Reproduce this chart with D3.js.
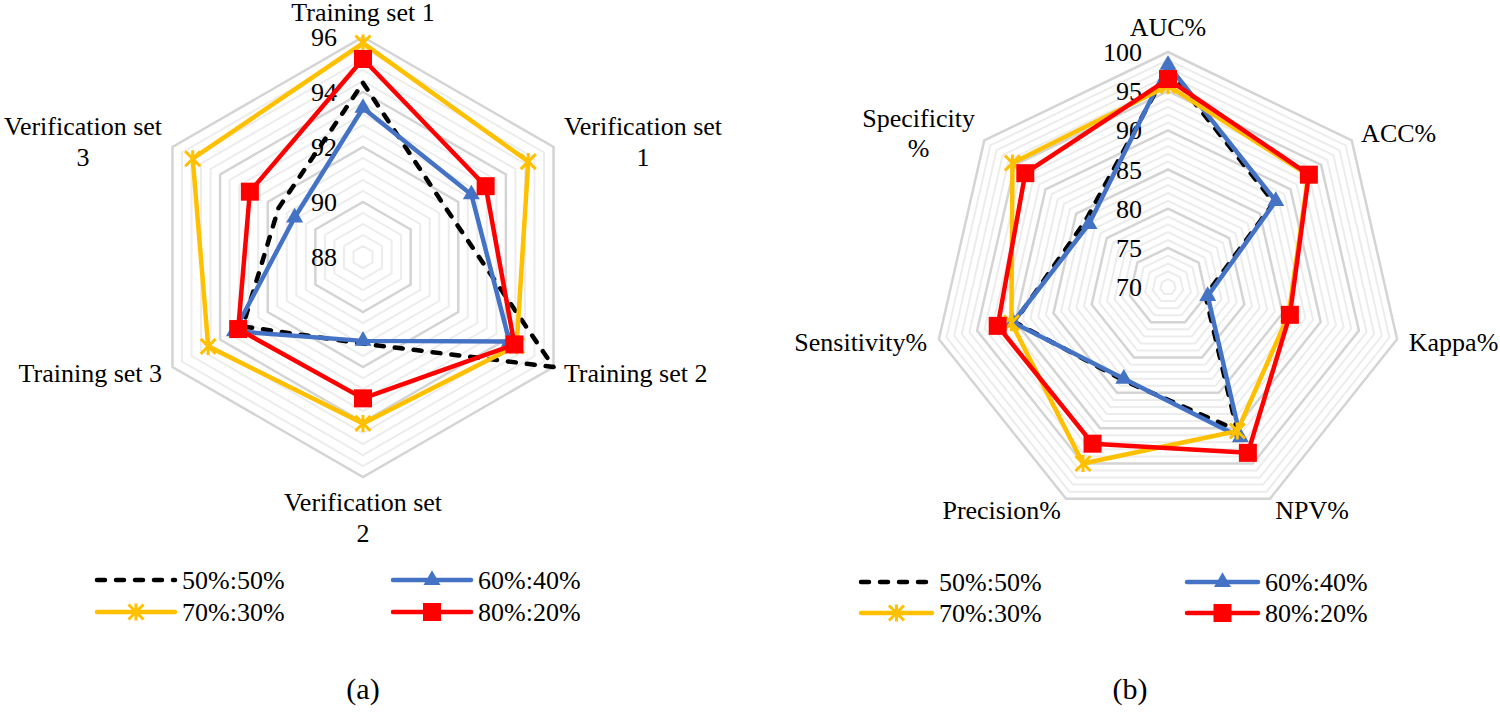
<!DOCTYPE html>
<html><head><meta charset="utf-8">
<script src="https://cdn.jsdelivr.net/npm/d3@7"></script>
<style>
body{margin:0;background:#fff}
svg{display:block}
</style>
</head><body>
<svg id="chart" width="1500" height="714" font-family="'Liberation Serif', Tinos, 'DejaVu Serif', 'Noto Serif', 'Times New Roman', serif"></svg>
<script>
// ---- Data: panel (a) ----
const leftCategories = ["Training set 1", "Verification set\n1", "Training set 2", "Verification set\n2", "Training set 3", "Verification set\n3"];
const leftS50 = [94.33, 91.5, 96.0, 91.15, 93.05, 91.55];
const leftS60 = [93.42, 92.55, 94.15, 91.05, 93.4, 90.87];
const leftS70 = [95.78, 94.94, 94.45, 94.05, 94.5, 95.15];
const leftS80 = [95.2, 93.15, 94.36, 93.14, 93.24, 92.75];
const leftTicks = [88, 90, 92, 94, 96];

// ---- Data: panel (b) ----
const rightCategories = ["AUC%", "ACC%", "Kappa%", "NPV%", "Precision%", "Sensitivity%", "Specificity\n%"];
const rightS50 = [97.8, 87.3, 74.9, 90.3, 83.2, 90.1, 83.5];
const rightS60 = [98.35, 87.6, 75.2, 91.3, 83.0, 90.3, 82.9];
const rightS70 = [95.7, 92.9, 85.8, 90.4, 95.0, 90.5, 95.4];
const rightS80 = [96.55, 93.0, 85.96, 93.5, 92.2, 92.3, 93.3];
const rightTicks = [70, 75, 80, 85, 90, 95, 100];

const seriesNames = ["50%:50%", "60%:40%", "70%:30%", "80%:20%"];

const styles = [
  {color: "#000000", dash: "8,11", marker: null},
  {color: "#4472C4", dash: null, marker: "triangle"},
  {color: "#FFC000", dash: null, marker: "star"},
  {color: "#FF0000", dash: null, marker: "square"}
];

const svg = d3.select("#chart");
const FS = 26;

function drawMarker(g, type, x, y, color) {
  if (type === "triangle") {
    g.append("path").attr("d", d3.symbol(d3.symbolTriangle, 125)())
      .attr("transform", `translate(${x},${y})`).attr("fill", color);
  } else if (type === "square") {
    g.append("rect").attr("x", x - 9).attr("y", y - 9).attr("width", 18).attr("height", 18).attr("fill", color);
  } else if (type === "star") {
    const s = 7.5;
    g.append("path").attr("d", `M${x - s},${y - s}L${x + s},${y + s}M${x - s},${y + s}L${x + s},${y - s}M${x},${y - s - 1}L${x},${y + s + 1}`)
      .attr("stroke", color).attr("stroke-width", 3).attr("fill", "none");
  }
}

function addLabel(g, text, x, y, anchor, vpos, lh) {
  const lines = text.split("\n");
  const grp = g.append("g");
  const ts = lines.map(l => grp.append("text").attr("font-size", FS).attr("text-anchor", "middle").attr("dy", "0.35em").text(l));
  let maxW = 0;
  ts.forEach(t => { maxW = Math.max(maxW, t.node().getComputedTextLength()); });
  let cx = x;
  if (anchor === "start") cx = x + maxW / 2;
  else if (anchor === "end") cx = x - maxW / 2;
  const n = lines.length;
  let y0;
  if (vpos === "top") y0 = y - 13 - (n - 1) * lh;
  else if (vpos === "bottom") y0 = y + 13;
  else y0 = y - (n - 1) * lh / 2;
  ts.forEach((t, i) => t.attr("x", cx).attr("y", y0 + i * lh));
}

function radar(cfg) {
  const g = svg.append("g").attr("transform", `translate(${cfg.cx},${cfg.cy})`);
  const n = cfg.categories.length;
  const r = d3.scaleLinear().domain([cfg.min, cfg.max]).range([0, cfg.R]);
  const ang = i => i * 2 * Math.PI / n;
  const ringPts = v => d3.range(n).map(i => [r(v) * Math.sin(ang(i)), -r(v) * Math.cos(ang(i))]);

  const nMinor = Math.round((cfg.max - cfg.min) / cfg.minor);
  const minorVals = d3.range(1, nMinor + 1).map(k => cfg.min + k * cfg.minor)
    .filter(v => !cfg.ticks.some(t => Math.abs(t - v) < 1e-6));
  minorVals.forEach(v => {
    g.append("polygon").attr("points", ringPts(v).map(p => p.join(",")).join(" "))
      .attr("fill", "none").attr("stroke", "#ECECEC").attr("stroke-width", 2);
  });
  cfg.ticks.filter(v => v > cfg.min).forEach(v => {
    g.append("polygon").attr("points", ringPts(v).map(p => p.join(",")).join(" "))
      .attr("fill", "none").attr("stroke", "#D4D4D4").attr("stroke-width", 2.5);
  });

  cfg.ticks.forEach(v => {
    g.append("text").attr("x", -26).attr("y", -r(v)).attr("dy", "0.35em")
      .attr("text-anchor", "end").attr("font-size", FS).text(v);
  });

  const line = d3.lineRadial().angle((d, i) => ang(i)).radius(d => r(d)).curve(d3.curveLinearClosed);
  cfg.series.forEach((data, si) => {
    const st = styles[si];
    const sg = g.append("g");
    sg.append("path").attr("d", line(data)).attr("fill", "none")
      .attr("stroke", st.color).attr("stroke-width", 4.5)
      .attr("stroke-linejoin", "round")
      .attr("stroke-linecap", st.dash ? "round" : "butt")
      .attr("stroke-dasharray", st.dash);
    if (st.marker) {
      data.forEach((d, i) => {
        drawMarker(sg, st.marker, r(d) * Math.sin(ang(i)), -r(d) * Math.cos(ang(i)), st.color);
      });
    }
  });

  const pad = 12;
  cfg.categories.forEach((c, i) => {
    const a = ang(i);
    const sx = Math.sin(a), sy = -Math.cos(a);
    const x = (cfg.R + pad) * sx, y = (cfg.R + pad) * sy;
    const anchor = Math.abs(sx) < 0.1 ? "middle" : (sx > 0 ? "start" : "end");
    const vpos = sy < -0.95 ? "top" : (sy > 0.95 ? "bottom" : "center");
    addLabel(g, c, x, y, anchor, vpos, cfg.lh);
  });
}

function legend(cfg) {
  const g = svg.append("g");
  seriesNames.forEach((name, si) => {
    const col = si % 2, row = Math.floor(si / 2);
    const x0 = cfg.x[col], y = cfg.y[row];
    const st = styles[si];
    g.append("line").attr("x1", x0).attr("x2", x0 + cfg.len).attr("y1", y).attr("y2", y)
      .attr("stroke", st.color).attr("stroke-width", 4.5).attr("stroke-linecap", "round")
      .attr("stroke-dasharray", st.dash);
    if (st.marker) drawMarker(g, st.marker, x0 + cfg.len / 2, y, st.color);
    g.append("text").attr("x", x0 + cfg.len + 7).attr("y", y).attr("dy", "0.35em")
      .attr("font-size", FS).text(name);
  });
}

radar({cx: 363, cy: 257, R: 220, min: 88, max: 96, minor: 0.4, ticks: leftTicks,
  categories: leftCategories, series: [leftS50, leftS60, leftS70, leftS80], lh: 31});
radar({cx: 1168, cy: 287, R: 235, min: 70, max: 100, minor: 1, ticks: rightTicks,
  categories: rightCategories, series: [rightS50, rightS60, rightS70, rightS80], lh: 30});

legend({x: [97, 393], y: [580, 612], len: 78});
legend({x: [861, 1187], y: [582, 613], len: 71});

svg.append("text").attr("x", 363).attr("y", 688).attr("dy", "0.35em").attr("text-anchor", "middle").attr("font-size", 30).text("(a)");
svg.append("text").attr("x", 1130).attr("y", 688).attr("dy", "0.35em").attr("text-anchor", "middle").attr("font-size", 30).text("(b)");
</script>
</body></html>
